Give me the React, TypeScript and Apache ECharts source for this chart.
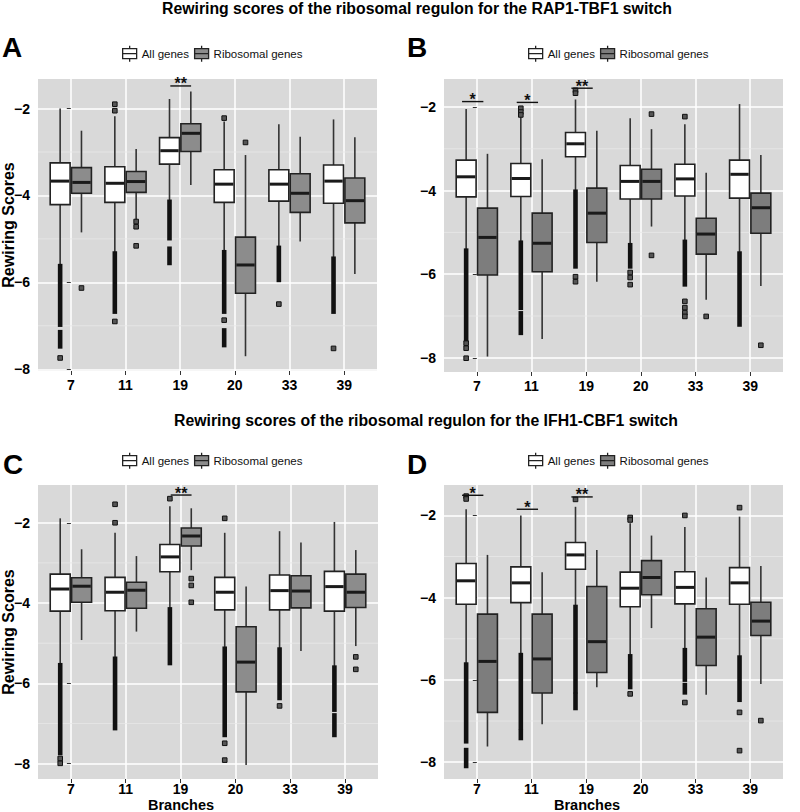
import React, { useEffect, useRef } from "react";
import * as echarts from "echarts";

// ---------- DATA ----------
const branches = ["7", "11", "19", "20", "33", "39"];
const yTicks = [-8, -6, -4, -2];
const yMinor = [-7, -5, -3];
const groupNames = ["All genes", "Ribosomal genes"];

// [lower whisker, Q1, median, Q3, upper whisker] per branch
const allGenesA = [
  [-5.62, -4.21, -3.67, -3.25, -2.0],
  [-5.33, -4.16, -3.72, -3.34, -2.18],
  [-4.14, -3.28, -2.97, -2.67, -1.78],
  [-5.3, -4.16, -3.74, -3.41, -2.3],
  [-5.2, -4.13, -3.74, -3.41, -2.36],
  [-5.45, -4.18, -3.67, -3.3, -2.25],
];
const riboGenesA = [
  [-4.85, -3.95, -3.7, -3.36, -2.51],
  [-4.57, -3.93, -3.68, -3.45, -2.93],
  [-3.76, -2.99, -2.57, -2.35, -1.61],
  [-7.7, -6.25, -5.6, -4.96, -3.07],
  [-5.06, -4.39, -3.95, -3.5, -2.65],
  [-5.81, -4.63, -4.12, -3.6, -2.66],
];
const allGenesB = [
  [-5.43, -4.15, -3.67, -3.27, -2.05],
  [-5.24, -4.14, -3.71, -3.35, -2.23],
  [-4.02, -3.19, -2.88, -2.61, -1.82],
  [-5.3, -4.2, -3.78, -3.4, -2.27],
  [-5.22, -4.13, -3.72, -3.37, -2.41],
  [-5.5, -4.18, -3.61, -3.27, -1.93],
];
const riboGenesB = [
  [-7.97, -6.02, -5.12, -4.42, -3.12],
  [-7.55, -5.94, -5.26, -4.54, -3.25],
  [-6.18, -5.24, -4.54, -3.94, -2.57],
  [-4.86, -4.2, -3.78, -3.49, -2.53],
  [-6.61, -5.52, -5.04, -4.66, -3.57],
  [-6.28, -5.02, -4.41, -4.06, -3.15],
];
const allGenesC = [
  [-5.54, -4.2, -3.65, -3.28, -1.89],
  [-5.38, -4.19, -3.73, -3.36, -2.25],
  [-4.15, -3.22, -2.85, -2.54, -1.59],
  [-5.13, -4.17, -3.73, -3.36, -2.25],
  [-5.15, -4.17, -3.69, -3.3, -2.21],
  [-5.6, -4.2, -3.59, -3.21, -1.98],
];
const riboGenesC = [
  [-4.92, -3.98, -3.58, -3.37, -2.66],
  [-4.71, -4.13, -3.68, -3.48, -2.83],
  [-3.18, -2.58, -2.33, -2.13, -1.64],
  [-8.03, -6.21, -5.47, -4.59, -3.59],
  [-5.19, -4.12, -3.7, -3.32, -2.49],
  [-5.07, -4.11, -3.73, -3.28, -2.68],
];
const allGenesD = [
  [-5.62, -4.16, -3.59, -3.17, -1.85],
  [-5.39, -4.12, -3.64, -3.25, -2.0],
  [-4.22, -3.31, -2.96, -2.66, -1.79],
  [-5.42, -4.22, -3.77, -3.38, -2.19],
  [-5.27, -4.15, -3.75, -3.37, -2.28],
  [-5.45, -4.16, -3.64, -3.27, -2.03],
];
const riboGenesD = [
  [-7.62, -6.79, -5.55, -4.4, -2.96],
  [-7.08, -6.32, -5.49, -4.4, -3.38],
  [-6.18, -5.82, -5.07, -3.73, -2.84],
  [-4.74, -3.93, -3.51, -3.1, -2.49],
  [-6.36, -5.65, -4.96, -4.27, -3.51],
  [-6.1, -4.92, -4.57, -4.11, -3.23],
];

// dense runs of overlapping outliers: [branch index, low, high]
const allBandsA = [[0, -6.98, -5.62], [0, -7.48, -7.14], [1, -6.68, -5.33], [2, -4.99, -4.14], [2, -5.56, -5.22], [3, -6.68, -5.3], [3, -7.45, -7.1], [4, -5.95, -5.2], [5, -6.68, -5.45]];
const allBandsB = [[0, -7.57, -5.43], [1, -6.81, -5.24], [1, -7.41, -6.93], [2, -5.82, -4.02], [3, -5.82, -5.3], [4, -6.25, -5.22], [5, -7.21, -5.5]];
const allBandsC = [[0, -7.74, -5.54], [1, -7.12, -5.38], [2, -5.5, -4.15], [3, -7.29, -5.13], [4, -6.37, -5.15], [5, -6.66, -5.6], [5, -7.29, -6.79]];
const allBandsD = [[0, -7.5, -5.62], [0, -8.1, -7.7], [1, -7.17, -5.39], [1, -7.42, -7.26], [2, -6.28, -4.22], [2, -6.69, -6.36], [3, -6.18, -5.42], [4, -6.0, -5.27], [4, -6.31, -6.12], [5, -6.49, -5.45]];

// single outliers: [branch index, value]
const allPointsA = [[0, -7.74], [1, -1.9], [1, -2.05], [1, -6.9], [3, -2.22], [3, -6.87], [4, -6.5], [5, -7.52]];
const riboPointsA = [[0, -6.13], [1, -4.6], [1, -4.72], [1, -5.16], [3, -2.78]];
const allPointsB = [[0, -7.65], [0, -7.77], [0, -8.01], [1, -2.03], [1, -2.12], [1, -2.19], [2, -1.6], [2, -1.67], [2, -6.06], [2, -6.18], [3, -5.96], [3, -6.08], [3, -6.25], [4, -2.23], [4, -6.65], [4, -6.8], [4, -6.92], [4, -7.01]];
const riboPointsB = [[3, -2.17], [3, -5.55], [4, -7.01], [5, -7.7]];
const allPointsC = [[0, -7.87], [0, -7.99], [1, -1.54], [1, -2.0], [2, -1.4], [3, -1.89], [3, -7.49], [3, -7.91], [4, -6.56]];
const riboPointsC = [[2, -3.39], [2, -3.56], [2, -3.98], [5, -5.34], [5, -5.65]];
const allPointsD = [[0, -1.53], [0, -1.6], [2, -1.61], [3, -2.05], [3, -2.11], [3, -6.34], [4, -2.0], [4, -6.55], [5, -1.81], [5, -6.79], [5, -7.72]];
const riboPointsD = [[5, -6.99]];

// significance bars: [branch index, y]
const sigA = [[2, -1.48]];
const sigLabelsA = ["**"];
const sigB = [[0, -1.87], [1, -1.89], [2, -1.55]];
const sigLabelsB = ["*", "*", "**"];
const sigC = [[2, -1.31]];
const sigLabelsC = ["**"];
const sigD = [[0, -1.51], [1, -1.85], [2, -1.55]];
const sigLabelsD = ["*", "*", "**"];

const titleTop = "Rewiring scores of the ribosomal regulon for the RAP1-TBF1 switch";
const titleBottom = "Rewiring scores of the ribosomal regulon for the IFH1-CBF1 switch";
const yAxisTitle = "Rewiring Scores";
const xAxisTitle = "Branches";

// ---------- LAYOUT / STYLE ----------
const FONT = "'Liberation Sans', Arial, Helvetica, sans-serif";
const BG = "#D9D9D9";
const OFFSET = 0.195;
const HALF = 0.182;
const ICON = "path://M8,0L8,3M1,3L15,3L15,13L1,13ZM1,8L15,8M8,13L8,16";

const panels = [
  { letter: "A", all: allGenesA, ribo: riboGenesA, bands: allBandsA, allPts: allPointsA, riboPts: riboPointsA, sig: sigA, sigLabels: sigLabelsA,
    grid: { left: 38, top: 79, width: 339, height: 292 }, yr: [-8.04, -1.32], ribColor: "#8C8C8C", sigSpan: [-0.18, 0.2],
    legend: { left: 122, top: 45 }, letterPos: [2, 47], yTitle: true, xTitleX: 0, labelMargin: 7 },
  { letter: "B", all: allGenesB, ribo: riboGenesB, bands: allBandsB, allPts: allPointsB, riboPts: riboPointsB, sig: sigB, sigLabels: sigLabelsB,
    grid: { left: 444, top: 79, width: 339, height: 293 }, yr: [-8.34, -1.33], ribColor: "#7D7D7D", sigSpan: [-0.27, 0.12],
    legend: { left: 528, top: 45 }, letterPos: [407, 47], yTitle: false, xTitleX: 0, labelMargin: 7 },
  { letter: "C", all: allGenesC, ribo: riboGenesC, bands: allBandsC, allPts: allPointsC, riboPts: riboPointsC, sig: sigC, sigLabels: sigLabelsC,
    grid: { left: 38, top: 485, width: 340, height: 294 }, yr: [-8.38, -1.06], ribColor: "#8C8C8C", sigSpan: [-0.18, 0.2],
    legend: { left: 122, top: 452 }, letterPos: [3, 464], yTitle: true, xTitleX: 181, labelMargin: 3 },
  { letter: "D", all: allGenesD, ribo: riboGenesD, bands: allBandsD, allPts: allPointsD, riboPts: riboPointsD, sig: sigD, sigLabels: sigLabelsD,
    grid: { left: 444, top: 485, width: 339, height: 294 }, yr: [-8.41, -1.26], ribColor: "#7D7D7D", sigSpan: [-0.27, 0.12],
    legend: { left: 528, top: 452 }, letterPos: [407, 464], yTitle: false, xTitleX: 587, labelMargin: 3 },
];

const fmtY = (v: number) => (v < 0 ? "\u2212" + Math.abs(v) : String(v));

function boxRender(off: number, fill: string) {
  return (params: any, api: any) => {
    const xc = api.value(0) + off;
    const lo = api.coord([xc, api.value(1)]);
    const q1 = api.coord([xc, api.value(2)]);
    const md = api.coord([xc, api.value(3)]);
    const q3 = api.coord([xc, api.value(4)]);
    const hi = api.coord([xc, api.value(5)]);
    const xl = api.coord([xc - HALF, api.value(3)])[0];
    const xr = api.coord([xc + HALF, api.value(3)])[0];
    return {
      type: "group",
      children: [
        { type: "line", shape: { x1: lo[0], y1: lo[1], x2: q1[0], y2: q1[1] }, style: { stroke: "#333", lineWidth: 1.6 } },
        { type: "line", shape: { x1: hi[0], y1: hi[1], x2: q3[0], y2: q3[1] }, style: { stroke: "#333", lineWidth: 1.6 } },
        { type: "rect", shape: { x: xl, y: q3[1], width: xr - xl, height: q1[1] - q3[1] }, style: { fill, stroke: "#222", lineWidth: 1.6 } },
        { type: "line", shape: { x1: xl + 0.8, y1: md[1], x2: xr - 0.8, y2: md[1] }, style: { stroke: "#1a1a1a", lineWidth: 3 } },
      ],
    };
  };
}

function bandRender(off: number) {
  return (params: any, api: any) => {
    const xc = api.value(0) + off;
    const lo = api.coord([xc, api.value(1)]);
    const hi = api.coord([xc, api.value(2)]);
    return {
      type: "rect",
      shape: { x: lo[0] - 2.3, y: hi[1] - 2, width: 4.6, height: lo[1] - hi[1] + 4 },
      style: { fill: "#111" },
    };
  };
}

function pointRender(off: number) {
  return (params: any, api: any) => {
    const p = api.coord([api.value(0) + off, api.value(1)]);
    return {
      type: "rect",
      shape: { x: p[0] - 2.3, y: p[1] - 2.3, width: 4.6, height: 4.6 },
      style: { fill: "#555", stroke: "#111", lineWidth: 1 },
    };
  };
}

function minorRender(params: any, api: any) {
  const cs = params.coordSys;
  const y = api.coord([0, api.value(1)])[1];
  return { type: "line", shape: { x1: cs.x, y1: y, x2: cs.x + cs.width, y2: y }, style: { stroke: "#E8E8E8", lineWidth: 0.8 } };
}

function sigRender(labels: string[], span: number[]) {
  return (params: any, api: any) => {
    const i = api.value(0);
    const a = api.coord([i + span[0], api.value(1)]);
    const b = api.coord([i + span[1], api.value(1)]);
    return {
      type: "group",
      children: [
        { type: "line", shape: { x1: a[0], y1: a[1], x2: b[0], y2: b[1] }, style: { stroke: "#111", lineWidth: 1.4 } },
        { type: "text", x: (a[0] + b[0]) / 2, y: a[1] + 6, style: { text: labels[params.dataIndex], fill: "#111", font: `bold 16px ${FONT}`, textAlign: "center", textVerticalAlign: "bottom" } },
      ],
    };
  };
}

function buildOption() {
  const grid: any[] = [];
  const xAxis: any[] = [];
  const yAxis: any[] = [];
  const legend: any[] = [];
  const series: any[] = [];
  const graphic: any[] = [];

  panels.forEach((p, k) => {
    grid.push({ ...p.grid, show: true, backgroundColor: BG, borderWidth: 0, containLabel: false });
    const idx = branches.map((_, i) => i);
    xAxis.push({
      type: "value", gridIndex: k, min: -0.6, max: 5.6,
      axisLine: { show: false },
      axisTick: { show: true, length: 4, customValues: idx, lineStyle: { color: "#333", width: 1 } },
      axisLabel: { customValues: idx, margin: p.labelMargin, formatter: (v: number) => branches[Math.round(v)], color: "#000", fontFamily: FONT, fontWeight: "bold", fontSize: 14, lineHeight: 14 },
      splitLine: { show: true, lineStyle: { color: "#FFFFFF", width: 1.5 } },
    });
    yAxis.push({
      type: "value", gridIndex: k, min: p.yr[0], max: p.yr[1],
      axisLine: { show: false },
      axisTick: { show: true, length: 4, customValues: yTicks, lineStyle: { color: "#333", width: 1 } },
      axisLabel: { customValues: yTicks, margin: 8, formatter: fmtY, color: "#000", fontFamily: FONT, fontWeight: "bold", fontSize: 14 },
      splitLine: { show: true, lineStyle: { color: "#FFFFFF", width: 1.5 } },
    });
    legend.push({
      left: p.legend.left, top: p.legend.top, orient: "horizontal", padding: 0, itemGap: 5,
      itemWidth: 14, itemHeight: 16, selectedMode: false,
      textStyle: { fontFamily: FONT, fontSize: 11.5, color: "#111" },
      data: [
        { name: groupNames[0], icon: ICON, itemStyle: { color: "#FFFFFF", borderColor: "#222", borderWidth: 1.3 } },
        { name: groupNames[1], icon: ICON, itemStyle: { color: p.ribColor, borderColor: "#222", borderWidth: 1.3 } },
      ],
    });
    const common = { xAxisIndex: k, yAxisIndex: k, silent: true };
    series.push({ ...common, type: "custom", name: "minor" + k, z: 1, renderItem: minorRender, data: yMinor.map((v) => [0, v]), encode: { x: 0, y: 1 } });
    series.push({ ...common, type: "custom", name: groupNames[0], z: 3, itemStyle: { color: "#FFFFFF", borderColor: "#222" }, renderItem: boxRender(-OFFSET, "#FFFFFF"),
      data: p.all.map((s, i) => [i, ...s]), encode: { x: 0, y: [1, 2, 3, 4, 5] } });
    series.push({ ...common, type: "custom", name: groupNames[1], z: 3, itemStyle: { color: p.ribColor, borderColor: "#222" }, renderItem: boxRender(OFFSET, p.ribColor),
      data: p.ribo.map((s, i) => [i, ...s]), encode: { x: 0, y: [1, 2, 3, 4, 5] } });
    series.push({ ...common, type: "custom", name: "bands" + k, z: 4, renderItem: bandRender(-OFFSET), data: p.bands, encode: { x: 0, y: [1, 2] } });
    series.push({ ...common, type: "custom", name: "outA" + k, z: 4, renderItem: pointRender(-OFFSET), data: p.allPts, encode: { x: 0, y: 1 } });
    series.push({ ...common, type: "custom", name: "outR" + k, z: 4, renderItem: pointRender(OFFSET), data: p.riboPts, encode: { x: 0, y: 1 } });
    series.push({ ...common, type: "custom", name: "sig" + k, z: 5, clip: false, renderItem: sigRender(p.sigLabels, p.sigSpan), data: p.sig, encode: { x: 0, y: 1 } });

    graphic.push({ type: "text", left: p.letterPos[0], top: p.letterPos[1] - 14, style: { text: p.letter, font: `bold 28px ${FONT}`, fill: "#000" } });
    const g = p.grid;
    if (p.yTitle) {
      graphic.push({ type: "text", x: 8, y: g.top + g.height / 2, rotation: Math.PI / 2,
        style: { text: yAxisTitle, font: `bold 16px ${FONT}`, fill: "#000", textAlign: "center", textVerticalAlign: "middle" } });
    }
    if (p.xTitleX) {
      graphic.push({ type: "text", x: p.xTitleX, y: 805,
        style: { text: xAxisTitle, font: `bold 14.5px ${FONT}`, fill: "#000", textAlign: "center", textVerticalAlign: "middle" } });
    }
  });

  graphic.push({ type: "text", x: 417, y: 8.5, style: { text: titleTop, font: `bold 15.8px ${FONT}`, fill: "#000", textAlign: "center", textVerticalAlign: "middle" } });
  graphic.push({ type: "text", x: 426, y: 420, style: { text: titleBottom, font: `bold 15.8px ${FONT}`, fill: "#000", textAlign: "center", textVerticalAlign: "middle" } });

  return { animation: false, backgroundColor: "#FFFFFF", grid, xAxis, yAxis, legend, series, graphic };
}

export default function App() {
  const ref = useRef<HTMLDivElement>(null);
  useEffect(() => {
    if (!ref.current) return;
    const chart = echarts.init(ref.current, undefined, { renderer: "svg" });
    chart.setOption(buildOption() as any);
    return () => chart.dispose();
  }, []);
  return <div ref={ref} style={{ position: "absolute", left: 0, top: 0, width: 800, height: 812 }} />;
}
